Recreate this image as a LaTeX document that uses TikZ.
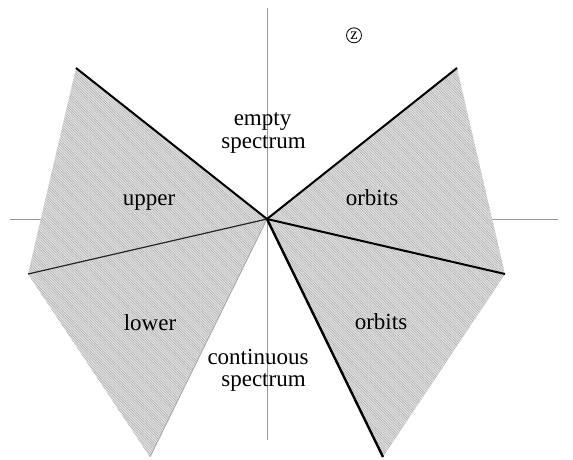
\documentclass[tikz,border=0pt]{standalone}
\usepackage{fontspec}
\setmainfont{Liberation Serif}
\usetikzlibrary{patterns.meta}
\tikzset{
  axis/.style={draw=gray!80, line width=0.8pt},
  region/.style={fill=gray!22, draw=none},
  hatch/.style={pattern={Lines[angle=-45,distance=1.8pt,line width=0.45pt]}, pattern color=gray!70},
  edge/.style={draw=black, line width=2pt},
  thinedge/.style={draw=black!85, line width=1.2pt},
  faintedge/.style={draw=gray!70, line width=0.8pt},
  lbl/.style={font=\fontsize{23}{22}\selectfont, inner sep=0pt, anchor=base},
}
\begin{document}
\begin{tikzpicture}[x=1pt,y=-1pt]
\useasboundingbox (0,0) rectangle (573,459);
% vertices
\coordinate (O) at (267,219);
\coordinate (UL) at (76,68);
\coordinate (LM) at (28,274);
\coordinate (BL) at (150,457);
\coordinate (UR) at (457,68);
\coordinate (RM) at (505,274);
\coordinate (BR) at (383,457);
\coordinate (AT) at (267,8);
\coordinate (AB) at (267,440);
\coordinate (AL) at (10,219);
\coordinate (AR) at (558,219);
% axes
\draw[axis] (AT) -- (AB);
\draw[axis] (AL) -- (AR);
% regions
\foreach \a/\b in {UL/LM, LM/BL, UR/RM, RM/BR}{
  \path[region] (O) -- (\a) -- (\b) -- cycle;
  \path[hatch] (O) -- (\a) -- (\b) -- cycle;
}
% edges
\draw[edge] (O) -- (UL);
\draw[thinedge] (O) -- (LM);
\draw[faintedge] (O) -- (BL);
\draw[edge] (O) -- (UR);
\draw[edge] (O) -- (RM);
\draw[edge, line width=2.4pt] (O) -- (BR);
% labels
\node[lbl] (empty1) at (262.5,125.5) {empty};
\node[lbl] (empty2) at (263.5,148) {spectrum};
\node[lbl] (upper) at (149,205) {upper};
\node[lbl] (orbitsU) at (372,205.5) {orbits};
\node[lbl] (lower) at (150,330) {lower};
\node[lbl] (orbitsL) at (381,329) {orbits};
\node[lbl] (cont1) at (258,364) {continuous};
\node[lbl] (cont2) at (263.5,386.5) {spectrum};
\node[draw, circle, line width=0.8pt, inner sep=0pt, minimum size=15pt, font=\fontsize{16.5}{16.5}\selectfont] (z) at (354,35.3) {z};
\end{tikzpicture}
\end{document}
